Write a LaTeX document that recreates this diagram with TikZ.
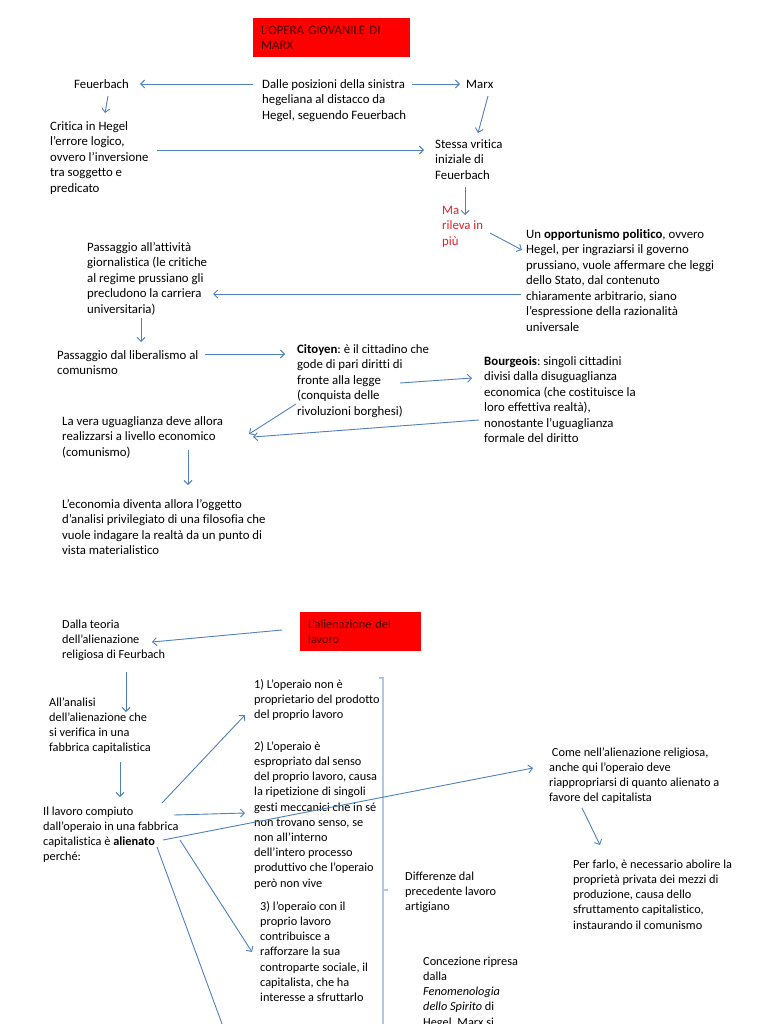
\documentclass[tikz,border=0pt]{standalone}
\usepackage{fontspec}
\setmainfont{Carlito}[Ligatures={NoCommon}]
\usetikzlibrary{arrows.meta,calc}
\definecolor{arrowblue}{RGB}{79,129,189}
\definecolor{brk}{RGB}{180,199,224}
\definecolor{boxred}{RGB}{255,0,0}
\definecolor{boxtxt}{RGB}{70,0,0}
\definecolor{mared}{RGB}{232,30,40}
\newcommand\ftop{\fontsize{12.8pt}{15.5pt}\selectfont}
\newcommand\fbot{\fontsize{12.3pt}{15.2pt}\selectfont}
\newcommand\ls{\rule{0pt}{12pt}}
\frenchspacing
\tikzset{
  txt/.style={anchor=north west, inner sep=0pt, align=left},
  tt/.style={txt, font=\ftop},
  bt/.style={txt, font=\fbot},
  redbox/.style={anchor=north west, fill=boxred, text=boxtxt, align=left, inner ysep=0pt, minimum height=39pt},
  arr/.style={draw=arrowblue, line width=0.9pt, -{Straight Barb[length=4pt,width=8pt]}},
  ln/.style={draw=arrowblue, line width=0.9pt},
  brack/.style={draw=brk, line width=1.4pt},
}
\begin{document}
\begin{tikzpicture}[x=1pt,y=-1pt]
\useasboundingbox[fill=white] (0,0) rectangle (768,1024);

% ---------- top section ----------
\node[redbox, font=\ftop, text width=141pt, inner xsep=8pt, minimum width=157pt] (t1) at (253,18) {L’OPERA GIOVANILE DI\\MARX};
\node[tt] (feu) at (74,76) {\ls Feuerbach};
\node[tt] (dalle) at (262,76) {\ls Dalle posizioni della sinistra\\hegeliana al distacco da\\Hegel, seguendo Feuerbach};
\node[tt] (marx) at (466,76) {\ls Marx};
\node[tt] (critica) at (50,118) {\ls Critica in Hegel\\l’errore logico,\\ovvero l’inversione\\tra soggetto e\\predicato};
\node[tt] (stessa) at (435,136) {\ls Stessa vritica\\iniziale di\\Feuerbach};
\node[tt, text=mared] (ma) at (442,202) {\ls Ma\\rileva in\\più};
\node[tt] (opp) at (526,226) {\ls Un \textbf{opportunismo politico}, ovvero\\Hegel, per ingraziarsi il governo\\prussiano, vuole affermare che leggi\\dello Stato, dal contenuto\\chiaramente arbitrario, siano\\l’espressione della razionalità\\universale};
\node[tt] (pass1) at (87,239) {\ls Passaggio all’attività\\giornalistica (le critiche\\al regime prussiano gli\\precludono la carriera\\universitaria)};
\node[tt] (pass2) at (57,347) {\ls Passaggio dal liberalismo al\\comunismo};
\node[tt] (cit) at (297,341) {\ls\textbf{Citoyen}: è il cittadino che\\gode di pari diritti di\\fronte alla legge\\(conquista delle\\rivoluzioni borghesi)};
\node[tt] (bour) at (484,353) {\ls\textbf{Bourgeois}: singoli cittadini\\divisi dalla disuguaglianza\\economica (che costituisce la\\loro effettiva realtà),\\nonostante l’uguaglianza\\formale del diritto};
\node[tt] (vera) at (62,413) {\ls La vera uguaglianza deve allora\\realizzarsi a livello economico\\(comunismo)};
\node[tt] (econ) at (62,496) {\ls L’economia diventa allora l’oggetto\\d’analisi privilegiato di una filosofia che\\vuole indagare la realtà da un punto di\\vista materialistico};

\draw[arr] ($(dalle.north west)+(-9,8)$) -- ($(feu.north west)+(66,8)$);
\draw[arr] ($(dalle.north west)+(150,8)$) -- ($(marx.north west)+(-6,8)$);
\draw[arr] ($(feu.north west)+(34,20)$) -- ($(critica.north west)+(55,-5)$);
\draw[arr] ($(critica.north west)+(107,32)$) -- ($(stessa.north west)+(-11,14)$);
\draw[arr] ($(marx.north west)+(22,20)$) -- ($(stessa.north west)+(43,-3)$);
\draw[arr] ($(stessa.north west)+(30,51)$) -- ($(ma.north west)+(23,13)$);
\draw[arr] ($(ma.north west)+(48,31)$) -- ($(opp.north west)+(-4,24)$);
\draw[arr] ($(opp.north west)+(-5,68)$) -- ($(pass1.north west)+(126,55)$);
\draw[arr] ($(pass1.north west)+(54,79)$) -- ($(pass2.north west)+(84,-5)$);
\draw[arr] ($(pass2.north west)+(148,7)$) -- ($(cit.north west)+(-12,13)$);
\draw[arr] ($(cit.north west)+(103,42)$) -- ($(bour.north west)+(-12,25)$);
\draw[arr] ($(cit.north west)+(-1,63)$) -- ($(vera.north west)+(187,21)$);
\draw[arr] ($(bour.north west)+(-5,67)$) -- ($(vera.north west)+(191,24)$);
\draw[arr] ($(vera.north west)+(126,37)$) -- ($(econ.north west)+(126,-11)$);

% ---------- bottom section ----------
\node[redbox, font=\fbot, text width=105pt, inner xsep=8pt, minimum width=121pt] (t2) at (300,612) {L’alienazione del\\lavoro};
\node[bt] (dalla) at (62,616) {\ls Dalla teoria\\dell’alienazione\\religiosa di Feurbach};
\node[bt] (allan) at (49,694) {\ls All’analisi\\dell’alienazione che\\si verifica in una\\fabbrica capitalistica};
\node[bt] (lav) at (43,803) {\ls Il lavoro compiuto\\dall’operaio in una fabbrica\\capitalistica è \textbf{alienato}\\perché:};
\node[bt] (p1) at (254,676) {\ls 1) L’operaio non è\\proprietario del prodotto\\del proprio lavoro};
\node[bt] (p2) at (254,738) {\ls 2) L’operaio è\\espropriato dal senso\\del proprio lavoro, causa\\la ripetizione di singoli\\gesti meccanici che in sé\\non trovano senso, se\\non all’interno\\dell’intero processo\\produttivo che l’operaio\\però non vive};
\node[bt] (p3) at (260,898) {\ls 3) l’operaio con il\\proprio lavoro\\contribuisce a\\rafforzare la sua\\controparte sociale, il\\capitalista, che ha\\interesse a sfruttarlo};
\node[bt] (diff) at (405,868) {\ls Differenze dal\\precedente lavoro\\artigiano};
\node[bt] (conc) at (423,953) {\ls Concezione ripresa\\dalla\\\textit{Fenomenologia}\\\textit{dello Spirito} di\\Hegel. Marx si};
\node[bt] (come) at (549,744) {\ls\ Come nell’alienazione religiosa,\\anche qui l’operaio deve\\riappropriarsi di quanto alienato a\\favore del capitalista};
\node[bt] (per) at (573,856) {\ls Per farlo, è necessario abolire la\\proprietà privata dei mezzi di\\produzione, causa dello\\sfruttamento capitalistico,\\instaurando il comunismo};
\coordinate (offpage) at (225,1032);

\draw[brack] (379,678) -- (383,678) -- (383,1030);
\draw[brack] (383,890) -- (388,890);

\draw[arr] ($(t2.north west)+(-18,18)$) -- ($(dalla.north west)+(90,26)$);
\draw[arr] ($(dalla.north west)+(64,56)$) -- ($(allan.north west)+(77,18)$);
\draw[arr] ($(allan.north west)+(71,68)$) -- ($(lav.north west)+(77,-6)$);
\draw[arr] ($(lav.north west)+(119,0)$) -- ($(p1.north west)+(-9,39)$);
\draw[arr] ($(lav.north west)+(131,12)$) -- ($(p2.north west)+(-9,75)$);
\draw[arr] ($(lav.north west)+(137,37)$) -- ($(p3.north west)+(-8,54)$);
\draw[arr] ($(lav.north west)+(120,37)$) -- ($(come.north west)+(-16,24)$);
\draw[ln] ($(lav.north west)+(114,44)$) -- (offpage);
\draw[arr] ($(come.north west)+(33,64)$) -- ($(per.north west)+(27,-11)$);
\end{tikzpicture}
\end{document}
